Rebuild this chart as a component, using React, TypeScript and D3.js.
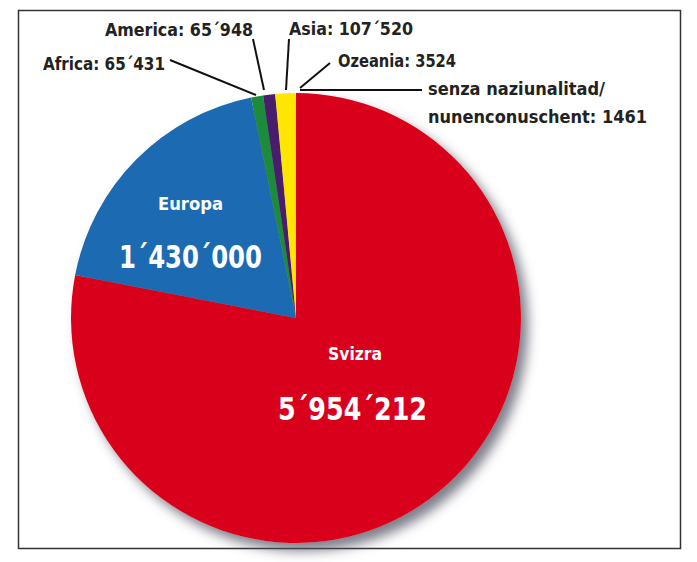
import React from "react";
import * as d3 from "d3";

const categories = ["Svizra", "Europa", "Africa", "America", "Asia", "Ozeania", "senza naziunalitad/nunenconuschent"];
const values = [5954212, 1430000, 65431, 65948, 107520, 3524, 1461];
const colors = ["#d9061c", "#1d6ab2", "#1c8c3a", "#4a1f6e", "#ffe500", "#f4f0c0", "#f7d0d0"];
const outsideLabels = ["", "", "Africa: 65´431", "America: 65´948", "Asia: 107´520", "Ozeania: 3524", "senza naziunalitad/|nunenconuschent: 1461"];

const W = 697, H = 562;
const cx = 296, cy = 318, R = 225;
const font = "'DejaVu Sans Condensed', 'Liberation Sans Narrow', Arial, sans-serif";

// label layout: text position, widths, leader line start/end
const labelLayout: Record<number, { tx: number; ty: number; w: number[]; lx: number; ly: number; ex: number; ey: number }> = {
  2: { tx: 43, ty: 70, w: [122], lx: 170, ly: 60, ex: 256, ey: 95 },
  3: { tx: 105, ty: 36, w: [148], lx: 253, ly: 39, ex: 264, ey: 90 },
  4: { tx: 289, ty: 35, w: [124], lx: 289, ly: 39, ex: 286, ey: 90 },
  5: { tx: 338, ty: 67, w: [118], lx: 330, ly: 63, ex: 300, ey: 88 },
  6: { tx: 428, ty: 95, w: [177, 219], lx: 422, ly: 90, ex: 300, ey: 90 },
};

export default function App() {
  const pie = d3.pie<number>().sort(null).value((d) => d);
  const arcs = pie(values);
  const arc = d3.arc<d3.PieArcDatum<number>>().innerRadius(0).outerRadius(R);

  return (
    <svg width={W} height={H} style={{ position: "absolute", left: 0, top: 0 }}>
      <defs>
        <filter id="shadow" x="-20%" y="-20%" width="150%" height="150%">
          <feDropShadow dx="7" dy="8" stdDeviation="6" floodColor="#556" floodOpacity="0.75" />
        </filter>
      </defs>
      <rect x={0} y={0} width={W} height={H} fill="#fff" />
      <rect x={18.5} y={10.5} width={662} height={538} fill="none" stroke="#333" strokeWidth={1.5} />
      <g transform={`translate(${cx},${cy})`}>
        <g filter="url(#shadow)">
          {arcs.map((a, i) => (
            <path key={i} d={arc(a) || ""} fill={colors[i]} />
          ))}
        </g>
      </g>
      {arcs.map((a, i) => {
        const L = labelLayout[i];
        if (!L) return null;
        const lines = outsideLabels[i].split("|");
        return (
          <g key={i}>
            <line x1={L.lx} y1={L.ly} x2={L.ex} y2={L.ey} stroke="#111" strokeWidth={2} />
            {lines.map((t, k) => (
              <text key={k} x={L.tx} y={L.ty + k * 28} fontFamily={font} fontWeight="bold" fontSize={18}
                textLength={L.w[k]} lengthAdjust="spacingAndGlyphs" fill="#222">
                {t}
              </text>
            ))}
          </g>
        );
      })}
      <text x={158} y={210} fontFamily={font} fontWeight="bold" fontSize={18} textLength={65} lengthAdjust="spacingAndGlyphs" fill="#fff">Europa</text>
      <text x={119} y={268} fontFamily={font} fontWeight="bold" fontSize={32} textLength={143} lengthAdjust="spacingAndGlyphs" fill="#fff">1´430´000</text>
      <text x={328} y={360} fontFamily={font} fontWeight="bold" fontSize={18} textLength={54} lengthAdjust="spacingAndGlyphs" fill="#fff">Svizra</text>
      <text x={278} y={420} fontFamily={font} fontWeight="bold" fontSize={32} textLength={149} lengthAdjust="spacingAndGlyphs" fill="#fff">5´954´212</text>
    </svg>
  );
}
